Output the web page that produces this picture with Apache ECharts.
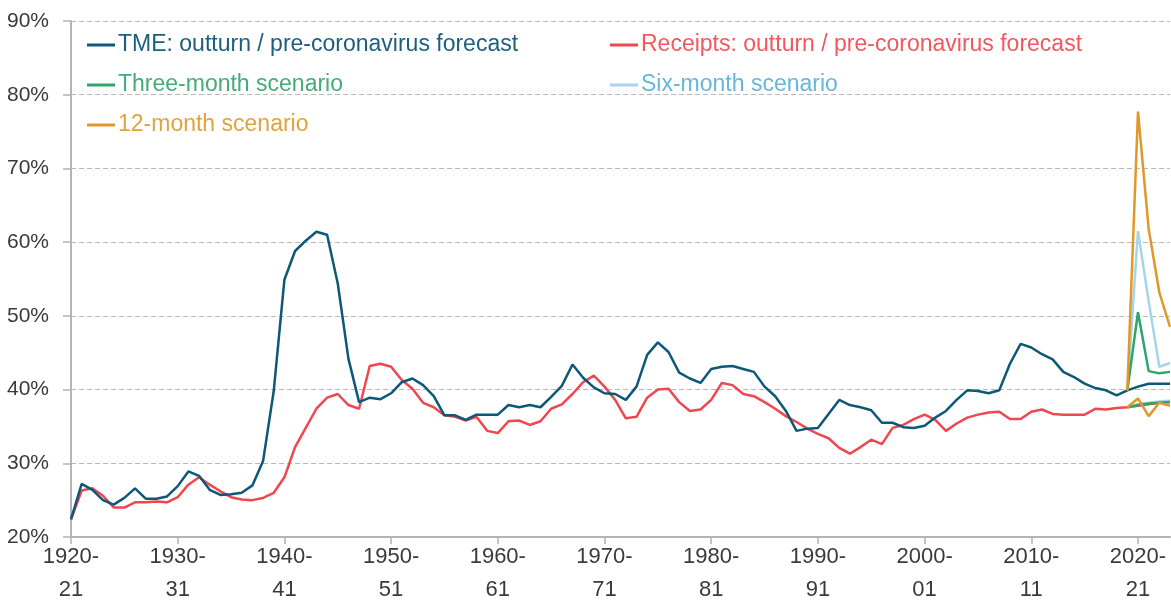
<!DOCTYPE html>
<html>
<head>
<meta charset="utf-8">
<script src="https://cdn.jsdelivr.net/npm/echarts@6/dist/echarts.min.js"></script>
<style>
  html, body { margin: 0; padding: 0; background: #fff; }
  #chart { width: 1171px; height: 601px; }
</style>
</head>
<body>
<div id="chart"></div>
<script>
// financial years 1920-21 .. 2023-24
const years = [];
for (let y = 1920; y <= 2023; y++) {
  years.push(y + '-' + String((y + 1) % 100).padStart(2, '0'));
}

// TME, % of GDP (outturn, then pre-coronavirus forecast)
const tme = [
  22.4, 27.2, 26.4, 25.0, 24.4, 25.3, 26.6, 25.2, 25.2, 25.5,
  26.9, 28.9, 28.3, 26.4, 25.7, 25.8, 26.0, 27.0, 30.3, 39.8,
  54.9, 58.8, 60.2, 61.4, 61.0, 54.4, 44.2, 38.3, 38.9, 38.7,
  39.5, 41.0, 41.5, 40.6, 39.1, 36.5, 36.5, 35.9, 36.6, 36.6,
  36.6, 37.9, 37.6, 37.9, 37.6, 39.0, 40.5, 43.4, 41.6, 40.3,
  39.5, 39.4, 38.6, 40.4, 44.7, 46.4, 45.1, 42.3, 41.5, 40.9,
  42.8, 43.1, 43.2, 42.8, 42.4, 40.4, 39.1, 37.1, 34.4, 34.7,
  34.8, 36.7, 38.6, 37.9, 37.6, 37.2, 35.5, 35.5, 34.9, 34.8,
  35.1, 36.2, 37.1, 38.6, 39.9, 39.8, 39.5, 39.9, 43.5, 46.2,
  45.7, 44.8, 44.1, 42.4, 41.7, 40.8, 40.2, 39.9, 39.2, 39.9,
  40.4, 40.8, 40.8, 40.8
];

// Receipts, % of GDP
const receipts = [
  22.4, 26.3, 26.6, 25.6, 24.0, 24.0, 24.7, 24.7, 24.8, 24.7,
  25.4, 27.1, 28.1, 27.1, 26.2, 25.4, 25.1, 25.0, 25.3, 26.0,
  28.1, 32.2, 34.8, 37.4, 38.9, 39.4, 37.9, 37.4, 43.2, 43.5,
  43.1, 41.3, 40.1, 38.2, 37.6, 36.5, 36.3, 35.8, 36.3, 34.4,
  34.1, 35.7, 35.8, 35.2, 35.7, 37.4, 38.0, 39.4, 41.0, 41.9,
  40.4, 38.6, 36.1, 36.3, 38.9, 40.0, 40.1, 38.3, 37.1, 37.3,
  38.6, 40.9, 40.6, 39.4, 39.1, 38.3, 37.4, 36.4, 35.6, 34.7,
  34.0, 33.4, 32.1, 31.3, 32.2, 33.2, 32.6, 34.8, 35.2, 36.0,
  36.6, 35.9, 34.4, 35.4, 36.2, 36.6, 36.9, 37.0, 36.0, 36.0,
  37.0, 37.3, 36.7, 36.6, 36.6, 36.6, 37.4, 37.3, 37.5, 37.6,
  37.8, 38.0, 38.2, 38.3
];

// scenarios, from 2019-20
const scenarioYears = ['2019-20', '2020-21', '2021-22', '2022-23', '2023-24'];
const threeMonthTme = [39.9, 50.5, 42.5, 42.2, 42.4];
const sixMonthTme = [39.9, 61.5, 52.0, 43.1, 43.6];
const twelveMonthTme = [39.9, 77.7, 61.8, 53.2, 48.5];
const threeMonthReceipts = [37.6, 37.9, 38.1, 38.2, 38.3];
const sixMonthReceipts = [37.6, 38.0, 38.2, 38.4, 38.5];
const twelveMonthReceipts = [37.6, 38.8, 36.4, 38.2, 37.8];

const yTicks = [20, 30, 40, 50, 60, 70, 80, 90];

const C_TME = '#0d5877';
const C_REC = '#f0474f';
const C_THREE = '#2ea56a';
const C_SIX = '#a3d5ec';
const C_TWELVE = '#e0982a';

const FONT = '"Liberation Sans", Arial, sans-serif';

function scen(vals) {
  return scenarioYears.map((y, i) => [y, vals[i]]);
}

function line(name, data, color, z) {
  return {
    name: name,
    type: 'line',
    data: data,
    symbol: 'none',
    z: z,
    lineStyle: { color: color, width: 2.5 },
    itemStyle: { color: color },
  };
}

const myChart = echarts.init(document.getElementById('chart'));

const legendBase = {
  orient: 'vertical',
  top: 28,
  itemWidth: 28,
  itemHeight: 3,
  itemGap: 16,
  icon: 'rect',
  selectedMode: false,
  textStyle: { fontFamily: FONT, fontSize: 23, lineHeight: 24, padding: [0, 0, 0, -2] },
};

const option = {
  animation: false,
  backgroundColor: '#fff',
  grid: { left: 71, right: 1, top: 21, bottom: 64, outerBoundsMode: 'none' },
  legend: [
    Object.assign({}, legendBase, {
      left: 82,
      data: [
        { name: 'TME: outturn / pre-coronavirus forecast', textStyle: { color: '#1b5f7f' } },
        { name: 'Three-month scenario', textStyle: { color: '#43ad78' } },
        { name: '12-month scenario', textStyle: { color: '#e2a33e' } },
      ],
    }),
    Object.assign({}, legendBase, {
      left: 605,
      data: [
        { name: 'Receipts: outturn / pre-coronavirus forecast', textStyle: { color: '#f2585e' } },
        { name: 'Six-month scenario', textStyle: { color: '#67b6dc' } },
      ],
    }),
  ],
  xAxis: {
    type: 'category',
    data: years,
    boundaryGap: false,
    axisLine: { lineStyle: { color: '#b4b4b4', width: 2 } },
    axisTick: {
      length: 7,
      interval: (i) => i % 10 === 0,
      lineStyle: { color: '#b4b4b4', width: 1.5 },
    },
    axisLabel: {
      interval: (i) => i % 10 === 0,
      formatter: (v) => v.replace('-', '-\n'),
      fontFamily: FONT,
      fontSize: 22,
      lineHeight: 33,
      color: '#3a3a3a',
      margin: 3,
    },
    splitLine: { show: false },
  },
  yAxis: {
    type: 'value',
    min: yTicks[0],
    max: yTicks[yTicks.length - 1],
    interval: 10,
    axisLine: { show: true, lineStyle: { color: '#b4b4b4', width: 2 } },
    axisTick: { show: true, length: 8, lineStyle: { color: '#b4b4b4', width: 1.5 } },
    axisLabel: {
      formatter: '{value}%',
      fontFamily: FONT,
      fontSize: 21,
      color: '#3a3a3a',
      margin: 22,
    },
    splitLine: { lineStyle: { color: '#b8b8b8', type: [5, 3], width: 1 } },
  },
  series: [
    line('Receipts: outturn / pre-coronavirus forecast', receipts, C_REC, 2),
    line('TME: outturn / pre-coronavirus forecast', tme, C_TME, 3),
    line('Six-month scenario', scen(sixMonthReceipts), C_SIX, 4),
    line('Three-month scenario', scen(threeMonthReceipts), C_THREE, 5),
    line('12-month scenario', scen(twelveMonthReceipts), C_TWELVE, 6),
    line('Six-month scenario', scen(sixMonthTme), C_SIX, 4),
    line('Three-month scenario', scen(threeMonthTme), C_THREE, 5),
    line('12-month scenario', scen(twelveMonthTme), C_TWELVE, 6),
  ],
};

myChart.setOption(option);
window.addEventListener('resize', myChart.resize);
</script>
</body>
</html>
